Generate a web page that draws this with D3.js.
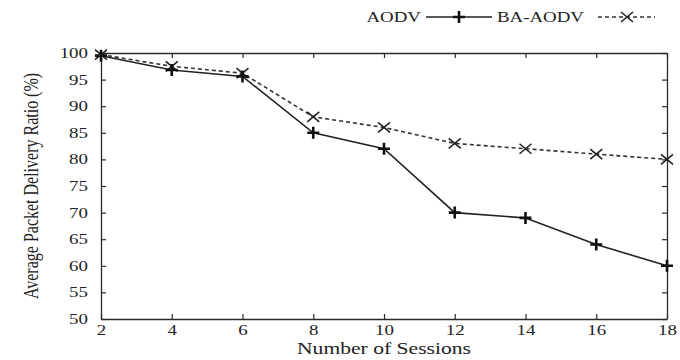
<!DOCTYPE html>
<html>
<head>
<meta charset="utf-8">
<script src="https://cdn.jsdelivr.net/npm/d3@7"></script>
<style>
  body { margin: 0; background: #fff; }
  svg text { font-family: "Liberation Serif", "Times New Roman", serif; fill: #222; }
</style>
</head>
<body>
<div id="chart"></div>
<script>
const sessions = [2, 4, 6, 8, 10, 12, 14, 16, 18];
const aodv = [99.5, 96.8, 95.6, 85, 82, 70, 69, 64, 60];
const baAodv = [99.7, 97.5, 96.2, 88, 86, 83, 82, 81, 80];
const yTicks = [50, 55, 60, 65, 70, 75, 80, 85, 90, 95, 100];

const width = 680, height = 360;
const margin = { top: 53, right: 13, bottom: 41, left: 101 };
const stretch = 1.35; // the original picture is widened horizontally

const svg = d3.select("#chart").append("svg")
  .attr("width", width)
  .attr("height", height);

const x = d3.scaleLinear().domain([2, 18]).range([margin.left, width - margin.right]);
const y = d3.scaleLinear().domain([50, 100]).range([height - margin.bottom, margin.top]);

const tick = 5;
const ink = "#2a2a2a";

// axes (gnuplot style: inward ticks, mirrored)
svg.append("g")
  .attr("transform", `translate(0,${height - margin.bottom})`)
  .call(d3.axisBottom(x).tickValues(sessions).tickSizeInner(-tick).tickSizeOuter(0).tickPadding(6))
  .call(g => g.selectAll("text")
    .style("font-size", "14px")
    .attr("transform", `scale(${stretch},1)`));

svg.append("g")
  .attr("transform", `translate(0,${margin.top})`)
  .call(d3.axisTop(x).tickValues(sessions).tickSizeInner(-tick).tickSizeOuter(0).tickFormat(""));

svg.append("g")
  .attr("transform", `translate(${margin.left},0)`)
  .call(d3.axisLeft(y).tickValues(yTicks).tickSizeInner(-tick).tickSizeOuter(0))
  .call(g => g.selectAll("text")
    .style("font-size", "14px")
    .attr("x", -13 / stretch)
    .attr("transform", `scale(${stretch},1)`));

svg.append("g")
  .attr("transform", `translate(${width - margin.right},0)`)
  .call(d3.axisRight(y).tickValues(yTicks).tickSizeInner(-tick).tickSizeOuter(0).tickFormat(""));

svg.selectAll(".domain").attr("stroke", ink).attr("stroke-width", 1.3);
svg.selectAll(".tick line").attr("stroke", ink).attr("stroke-width", 1.2);
svg.selectAll(".tick text").attr("fill", "#222");
svg.selectAll("g").attr("font-family", null);

// stretched text helper
function label(g, tx, ty, str, size, anchor) {
  return g.append("text")
    .attr("transform", `translate(${tx},${ty}) scale(${stretch},1)`)
    .attr("text-anchor", anchor)
    .style("font-size", size + "px")
    .text(str);
}

// titles
label(svg, (margin.left + width - margin.right) / 2, 354, "Number of Sessions", 16, "middle");

svg.append("text")
  .attr("transform", `translate(38,${(margin.top + height - margin.bottom) / 2}) rotate(-90) scale(1,${stretch})`)
  .attr("text-anchor", "middle")
  .style("font-size", "16px")
  .text("Average Packet Delivery Ratio (%)");

const line = d3.line().x((d, i) => x(sessions[i])).y(d => y(d));

function plus(g, cx, cy) {
  g.append("path")
    .attr("d", `M${cx - 6},${cy}H${cx + 6}M${cx},${cy - 6}V${cy + 6}`)
    .attr("stroke", "#111").attr("stroke-width", 2.6);
}
function cross(g, cx, cy) {
  g.append("path")
    .attr("d", `M${cx - 6},${cy - 5}L${cx + 6},${cy + 5}M${cx - 6},${cy + 5}L${cx + 6},${cy - 5}`)
    .attr("stroke", "#222").attr("stroke-width", 1.6);
}

// BA-AODV dashed
svg.append("path")
  .datum(baAodv)
  .attr("d", line)
  .attr("fill", "none")
  .attr("stroke", "#333")
  .attr("stroke-width", 1.6)
  .attr("stroke-dasharray", "4,3");

// AODV solid
svg.append("path")
  .datum(aodv)
  .attr("d", line)
  .attr("fill", "none")
  .attr("stroke", "#222")
  .attr("stroke-width", 1.6);

const marks = svg.append("g");
baAodv.forEach((v, i) => cross(marks, x(sessions[i]), y(v)));
aodv.forEach((v, i) => plus(marks, x(sessions[i]), y(v)));

// legend
const lg = svg.append("g");
label(lg, 421, 22, "AODV", 14, "end");
lg.append("line").attr("x1", 426).attr("x2", 492).attr("y1", 17).attr("y2", 17)
  .attr("stroke", "#222").attr("stroke-width", 1.6);
plus(lg, 459, 17);
label(lg, 584, 22, "BA-AODV", 14, "end");
lg.append("line").attr("x1", 598).attr("x2", 655).attr("y1", 17).attr("y2", 17)
  .attr("stroke", "#333").attr("stroke-width", 1.6).attr("stroke-dasharray", "4,3");
cross(lg, 627, 17);
</script>
</body>
</html>
